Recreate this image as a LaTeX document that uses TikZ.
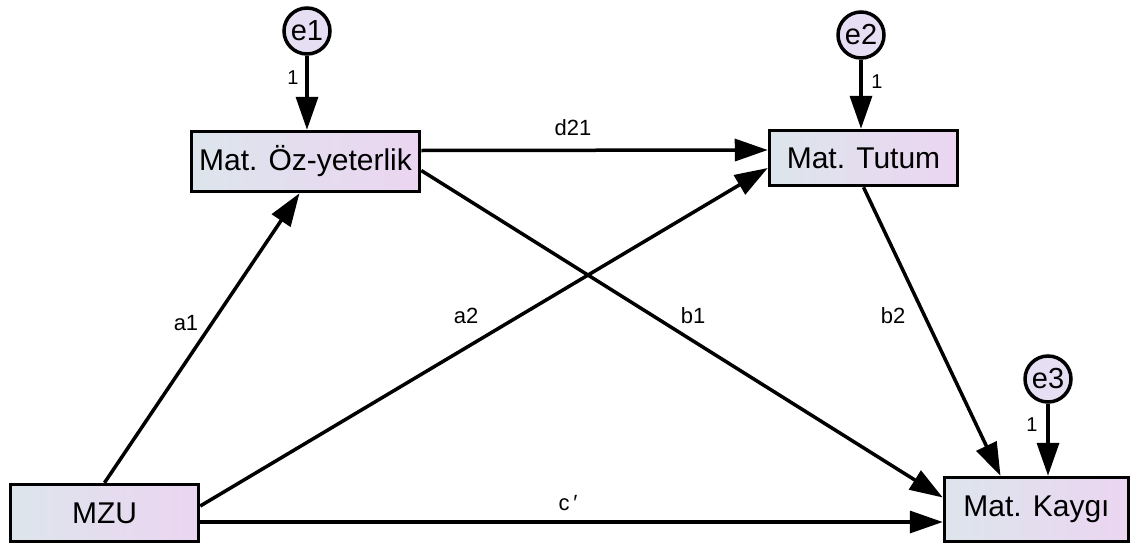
\documentclass[tikz,border=0pt]{standalone}
\usepackage{fontspec}
\setmainfont{Liberation Sans}
\usetikzlibrary{arrows.meta}
\definecolor{boxL}{HTML}{DDE5EC}
\definecolor{boxR}{HTML}{EBD5F1}
\definecolor{errfill}{HTML}{E6DEF2}
\tikzset{
  var/.style={draw=black, line width=3.5pt, left color=boxL, right color=boxR,
    inner sep=0pt, font=\fontsize{30}{32}\selectfont},
  err/.style={draw=black, line width=3.5pt, circle, fill=errfill, inner sep=0pt,
    minimum size=46pt, font=\fontsize{29}{31}\selectfont},
  path/.style={line width=3.5pt, -{Triangle[length=33pt,width=22pt]}},
  lab/.style={font=\fontsize{22}{24}\selectfont, inner sep=0pt},
  one/.style={font=\fontsize{20}{22}\selectfont, inner sep=0pt}
}
\begin{document}
\begin{tikzpicture}[x=1pt,y=-1pt]
\useasboundingbox (0,0) rectangle (1135,546);
\node[var, minimum width=228pt, minimum height=60pt] (oz) at (305.5,161.5) {Mat. Öz-yeterlik};
\node[var, minimum width=188pt, minimum height=55pt] (tut) at (863.5,158) {Mat. Tutum};
\node[var, minimum width=188pt, minimum height=57pt] (mzu) at (104.5,513) {MZU};
\node[var, minimum width=184pt, minimum height=64pt] (kay) at (1036.5,509.5) {Mat. Kaygı};
\node[err] (e1) at (307,31) {e1};
\node[err] (e2) at (861,35) {e2};
\node[err] (e3) at (1048,379) {e3};

\draw[path] (e1) -- (e1 |- oz.north);
\draw[path] (e2) -- (e2 |- tut.north);
\draw[path] (e3) -- (e3 |- kay.north);

\draw[path] ([yshift=11pt]oz.east) -- ([yshift=8pt]tut.west);
\draw[path] ([yshift=-9pt]oz.east) -- ([yshift=12pt]kay.west);
\draw[path] (tut.south) -- ([xshift=-36pt]kay.north);
\draw[path] (mzu.north) -- ([xshift=-6pt]oz.south);
\draw[path] ([yshift=7pt]mzu.east) -- ([yshift=-10pt]tut.west);
\draw[path] ([yshift=-9pt]mzu.east) -- ([yshift=-12.5pt]kay.west);

\node[one] (l1) at (293,78) {1};
\node[one] (l2) at (877,82) {1};
\node[one] (l3) at (1032,425) {1};
\node[lab] (la1) at (186,323) {a1};
\node[lab] (ld21) at (573,128) {d21};
\node[lab] (lb1) at (693,316) {b1};
\node[lab] (lb2) at (893,316) {b2};
\node[lab] (la2) at (466,316) {a2};
\node[lab] (lc) at (568,503) {c\,′};
\end{tikzpicture}
\end{document}
